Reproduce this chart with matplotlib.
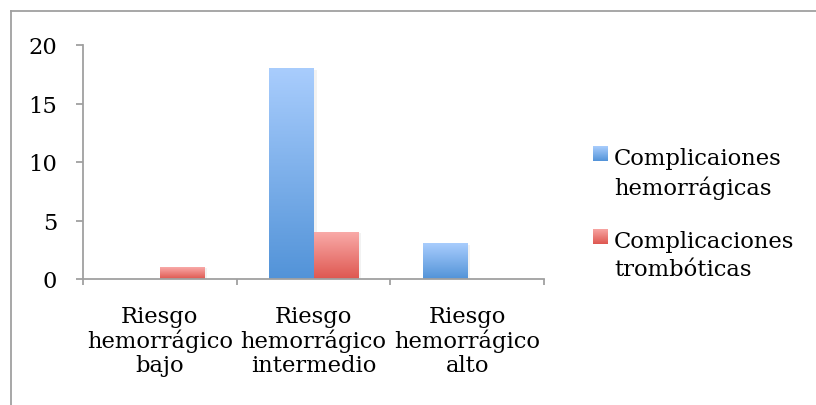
import numpy as np
import matplotlib
matplotlib.use("Agg")
import matplotlib.pyplot as plt
from matplotlib.lines import Line2D
from matplotlib.colors import LinearSegmentedColormap
from matplotlib.patches import Rectangle

categories = ["Riesgo\nhemorrágico\nbajo", "Riesgo\nhemorrágico\nintermedio", "Riesgo\nhemorrágico\nalto"]
series_names = ["Complicaiones\nhemorrágicas", "Complicaciones\ntrombóticas"]
hemorragicas = [0, 18, 3]
tromboticas = [1, 4, 0]
yticks = [0, 5, 10, 15, 20]

plt.rcParams['font.family'] = ['DejaVu Serif']
FS = 16.3
W, H = 816, 406
fig = plt.figure(figsize=(W / 100, H / 100), dpi=100)
ax = fig.add_axes([83 / W, 1 - 280 / H, (544 - 83) / W, (280 - 46) / H])

grey = "#a0a0a0"
# outer frame (cut off at right/bottom)
fig.add_artist(Line2D([11 / W, 11 / W], [0, 1 - 12 / H], transform=fig.transFigure, color=grey, lw=1.3))
fig.add_artist(Line2D([11 / W, 1], [1 - 12 / H, 1 - 12 / H], transform=fig.transFigure, color=grey, lw=1.3))

x = np.arange(len(categories))
w = 0.29
blue_top, blue_bot = "#a9cdfd", "#5293d8"
red_top, red_bot = "#f9aaa8", "#de5750"
cm_blue = LinearSegmentedColormap.from_list("b", [blue_bot, blue_top])
cm_red = LinearSegmentedColormap.from_list("r", [red_bot, red_top])

bars1 = ax.bar(x - w / 2, hemorragicas, w, color="none", edgecolor="none")
bars2 = ax.bar(x + w / 2, tromboticas, w, color="none", edgecolor="none")
grad = np.linspace(0, 1, 256).reshape(-1, 1)
for bars, cm in ((bars1, cm_blue), (bars2, cm_red)):
    for b in bars:
        h = b.get_height()
        if h <= 0:
            continue
        x0 = b.get_x()
        ax.add_patch(Rectangle((x0 + 0.01, 0), b.get_width() + 0.01, h - 0.1,
                               color="#000000", alpha=0.05, zorder=1.5, lw=0))
        ax.imshow(grad, extent=(x0, x0 + b.get_width(), 0, h), origin="lower",
                  cmap=cm, aspect="auto", zorder=2)

ax.set_xlim(-0.5, 2.5)
ax.set_ylim(0, 20)
ax.set_yticks(yticks)
ax.set_yticklabels([str(t) for t in yticks], fontsize=FS)
ax.set_xticks(x)
ax.set_xticklabels(categories, fontsize=FS, linespacing=1.12)
ax.tick_params(axis="x", length=0, pad=18.5)
ax.set_xticks([-0.5, 0.5, 1.5, 2.5], minor=True)
ax.tick_params(axis="x", which="minor", length=4.5, color=grey, width=1.3)
ax.tick_params(axis="y", length=5, color=grey, width=1.3, pad=13.5)
for s in ("top", "right"):
    ax.spines[s].set_visible(False)
for s in ("left", "bottom"):
    ax.spines[s].set_color(grey)
    ax.spines[s].set_linewidth(1.3)

# legend (handle aligned with the first line of each label)
leg_items = [(series_names[0], cm_blue, 147, 1), (series_names[1], cm_red, 230, 1)]
for label, cm, ytop, dy in leg_items:
    lax = fig.add_axes([593 / W, 1 - (ytop + 15) / H, 15 / W, 15 / H])
    lax.imshow(grad, extent=(0, 1, 0, 1), origin="lower", cmap=cm, aspect="auto")
    lax.set_axis_off()
    fig.text(614 / W, 1 - (ytop + dy) / H, label, fontsize=FS, va="top", ha="left",
             linespacing=1.35)

fig.savefig("out.png", dpi=100)
